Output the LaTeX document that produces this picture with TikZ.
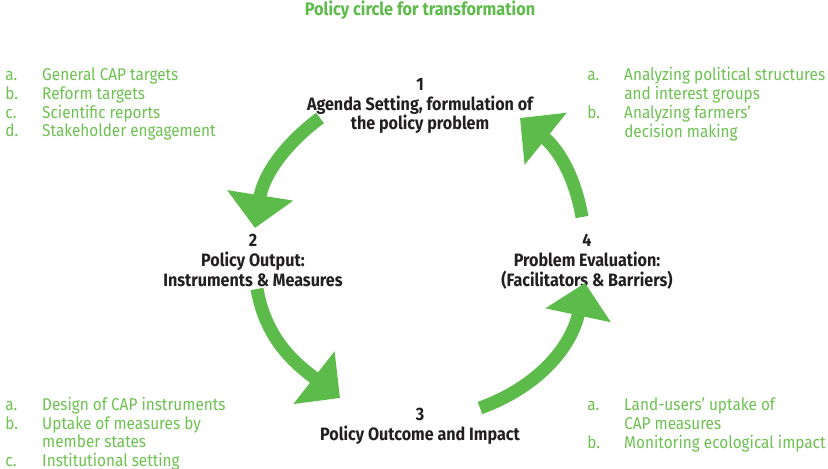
\documentclass[tikz,border=0pt]{standalone}
\usepackage{fontspec}
\setmainfont{Fira Sans}[FakeStretch=0.9]
\usepackage{array}
\usetikzlibrary{arrows.meta}

\definecolor{arrowgreen}{HTML}{5CBB4A}
\definecolor{textgreen}{HTML}{6CC24F}
\definecolor{darktext}{HTML}{231F20}

\newcommand{\itemlist}[1]{\begin{tabular}[t]{@{}p{21pt}@{}l@{}}#1\end{tabular}}

\begin{document}
\begin{tikzpicture}[x=0.02cm, y=0.02cm, inner sep=0pt]
		\tikzstyle{stage}=[align=center, anchor=north, text=darktext, font=\bfseries\fontsize{10.2}{11.2}\selectfont]
		\tikzstyle{items}=[anchor=base west, text=textgreen, font=\fontsize{9.7}{10.4}\selectfont]
		\tikzstyle{bigarrow}=[draw=arrowgreen, line width=7.4pt, -{Triangle[length=18.8pt, width=37pt]}]
			\useasboundingbox (0, 0) rectangle (828, 469);

			\node (title) at (420, 453) [anchor=base, text=arrowgreen, font=\bfseries\fontsize{10.3}{11}\selectfont] {Policy circle for transformation};

			\node[stage] (agenda) at (420, 391) {1\\Agenda Setting, formulation of\\the policy problem};
			\node[stage] (output) at (253, 235) {2\\Policy Output:\\Instruments \& Measures};
			\node[stage] (outcome) at (420, 61) {3\\Policy Outcome and Impact};
			\node[stage] (evaluation) at (587, 235) {4\\Problem Evaluation:\\(Facilitators \& Barriers)};

			\node[items] (agendalist) at (5, 388) {\itemlist{a. & General CAP targets\\ b. & Reform targets\\ c. & Scientific reports\\ d. & Stakeholder engagement}};
			\node[items] (analysislist) at (587, 388) {\itemlist{a. & Analyzing political structures\\ & and interest groups\\ b. & Analyzing farmers'\\ & decision making}};
			\node[items] (outputlist) at (5, 58) {\itemlist{a. & Design of CAP instruments\\ b. & Uptake of measures by\\ & member states\\ c. & Institutional setting}};
			\node[items] (outcomelist) at (587, 58) {\itemlist{a. & Land-users' uptake of\\ & CAP measures\\ b. & Monitoring ecological impact}};

			% arrow ends
			\coordinate (a1) at (320, 351);
			\coordinate (b1) at (255, 241);
			\coordinate (a2) at (257, 180);
			\coordinate (b2) at (340, 71);
			\coordinate (a3) at (480, 61);
			\coordinate (b3) at (585, 186);
			\coordinate (a4) at (582, 252);
			\coordinate (b4) at (520, 351);

			\draw[bigarrow] (a1) to[out=217, in=81] (b1);
			\draw[bigarrow] (a2) to[out=280, in=142] (b2);
			\draw[bigarrow] (a3) to[out=20, in=258] (b3);
			\draw[bigarrow] (a4) to[out=100, in=321] (b4);
		\end{tikzpicture}
\end{document}
